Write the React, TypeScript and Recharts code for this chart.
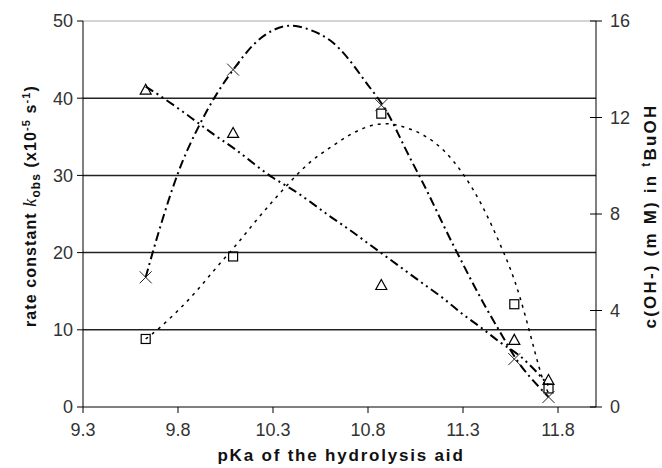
import React from "react";
import { ComposedChart, Line, ReferenceLine, Scatter, XAxis, YAxis } from "recharts";

// measured points (pKa of the hydrolysis aid)
const pKa = [9.63, 10.09, 10.87, 11.57, 11.75];
const kTriangle = [41.1, 35.5, 15.8, 8.7, 3.5];
const kCross = [16.8, 43.7, 39.1, 6.2, 1.3];
// c(OH-) in mM, right axis
const cOH = [2.82, 6.24, 12.16, 4.26, 0.77];

// trend curves
const trendPKa = [
  9.63, 9.7, 9.8, 9.9, 10.0, 10.1, 10.2, 10.3, 10.4, 10.5, 10.6, 10.7,
  10.8, 10.9, 11.0, 11.1, 11.2, 11.3, 11.4, 11.5, 11.6, 11.7, 11.75,
];
const trendTriangle = [
  41.5, 40.4, 38.7, 36.9, 35.1, 33.4, 31.5, 29.7, 28.2, 26.5, 24.7, 23.0,
  21.2, 19.4, 17.6, 15.8, 14.0, 12.0, 10.2, 8.3, 6.6, 4.2, 2.8,
];
const trendCross = [
  16.8, 22.8, 30.3, 35.9, 40.4, 44.0, 47.0, 48.8, 49.4, 48.8, 47.5, 45.0,
  41.7, 38.2, 33.3, 28.5, 23.4, 18.5, 13.8, 9.5, 5.5, 2.6, 1.3,
];
const trendCOH = [
  2.82, 3.26, 4.0, 4.83, 5.76, 6.66, 7.62, 8.54, 9.41, 10.18, 10.75, 11.26,
  11.62, 11.74, 11.58, 11.23, 10.62, 9.66, 8.35, 6.66, 4.54, 1.66, 0.58,
];

const xTicks = [9.3, 9.8, 10.3, 10.8, 11.3, 11.8];
const leftTicks = [0, 10, 20, 30, 40, 50];
const rightTicks = [0, 4, 8, 12, 16];
const gridValues = [10, 20, 30, 40];

const toPoints = (xs: number[], ys: number[]) => xs.map((x, i) => ({ x, y: ys[i] }));

const FONT = "'Liberation Sans', Arial, sans-serif";

const TriangleMark = (p: any) => (
  <path
    d={`M${p.cx},${p.cy - 5.5} L${p.cx + 5.5},${p.cy + 4.5} L${p.cx - 5.5},${p.cy + 4.5} Z`}
    fill="none"
    stroke="#000"
    strokeWidth={1.2}
  />
);

const SquareMark = (p: any) => (
  <rect x={p.cx - 4.5} y={p.cy - 4.5} width={9} height={9} fill="none" stroke="#000" strokeWidth={1.2} />
);

const CrossMark = (p: any) => (
  <g stroke="#222" strokeWidth={1}>
    <line x1={p.cx - 6} y1={p.cy - 6} x2={p.cx + 6} y2={p.cy + 6} />
    <line x1={p.cx - 6} y1={p.cy + 6} x2={p.cx + 6} y2={p.cy - 6} />
  </g>
);

const RightTick = (p: any) => (
  <g>
    <line x1={p.x - 6} y1={p.y} x2={p.x + 6} y2={p.y} stroke="#000" />
    <text x={p.x + 14} y={p.y} dy="0.355em" fontSize={18} fontFamily={FONT} fill="#333">
      {p.payload.value}
    </text>
  </g>
);

export default function App() {
  return (
    <div style={{ position: "absolute", left: 0, top: 0, width: 662, height: 468, background: "#fff" }}>
      <ComposedChart width={662} height={468} margin={{ top: 21, right: 0, bottom: 0, left: 0 }}>
        <XAxis
          dataKey="x"
          type="number"
          domain={[9.3, 12.0]}
          ticks={xTicks}
          allowDataOverflow
          height={61}
          tickSize={6}
          tickMargin={10}
          stroke="#000"
          tick={{ fontSize: 18, fontFamily: FONT, fill: "#333" }}
        />
        <YAxis
          yAxisId="left"
          type="number"
          domain={[0, 50]}
          ticks={leftTicks}
          allowDataOverflow
          width={83}
          tickSize={6}
          tickMargin={4}
          stroke="#000"
          tick={{ fontSize: 18, fontFamily: FONT, fill: "#333" }}
        />
        <YAxis
          yAxisId="right"
          orientation="right"
          type="number"
          domain={[0, 16]}
          ticks={rightTicks}
          allowDataOverflow
          width={66}
          tickSize={0}
          tickMargin={0}
          tickLine={false}
          stroke="#000"
          tick={<RightTick />}
        />
        {gridValues.map((v) => (
          <ReferenceLine key={v} yAxisId="left" y={v} stroke="#222" strokeWidth={1.5} />
        ))}
        <ReferenceLine yAxisId="left" y={50} stroke="#aaa" strokeWidth={1.2} />

        <Line
          yAxisId="left"
          data={toPoints(trendPKa, trendCross)}
          dataKey="y"
          type="natural"
          stroke="#000"
          strokeWidth={2}
          strokeDasharray="9 4 2 4"
          dot={false}
          isAnimationActive={false}
        />
        <Line
          yAxisId="left"
          data={toPoints(trendPKa, trendTriangle)}
          dataKey="y"
          type="natural"
          stroke="#000"
          strokeWidth={2}
          strokeDasharray="9 4 2 4 2 4"
          dot={false}
          isAnimationActive={false}
        />
        <Line
          yAxisId="right"
          data={toPoints(trendPKa, trendCOH)}
          dataKey="y"
          type="natural"
          stroke="#000"
          strokeWidth={1.5}
          strokeDasharray="3 5"
          dot={false}
          isAnimationActive={false}
        />

        <Scatter yAxisId="left" data={toPoints(pKa, kTriangle)} dataKey="y" shape={TriangleMark} isAnimationActive={false} />
        <Scatter yAxisId="right" data={toPoints(pKa, cOH)} dataKey="y" shape={SquareMark} isAnimationActive={false} />
        <Scatter yAxisId="left" data={toPoints(pKa, kCross)} dataKey="y" shape={CrossMark} isAnimationActive={false} />
      </ComposedChart>

      <svg width={662} height={468} style={{ position: "absolute", left: 0, top: 0, pointerEvents: "none" }}>
        <text
          x={341}
          y={461}
          textAnchor="middle"
          fontFamily={FONT}
          fontWeight="bold"
          fontSize={17}
          letterSpacing={1.8}
          fill="#111"
        >
          pKa of the hydrolysis aid
        </text>
        <text
          transform="translate(36,206) rotate(-90)"
          textAnchor="middle"
          fontFamily={FONT}
          fontWeight="bold"
          fontSize={16}
          letterSpacing={1.1}
          fill="#111"
        >
          rate constant{" "}
          <tspan fontFamily="'Liberation Serif', serif" fontStyle="italic" fontWeight="normal" fontSize={18}>
            k
          </tspan>
          <tspan dy={4} fontSize={12}>obs</tspan>
          <tspan dy={-4}> (x10</tspan>
          <tspan dy={-6} fontSize={11}>-5</tspan>
          <tspan dy={6}> s</tspan>
          <tspan dy={-6} fontSize={11}>-1</tspan>
          <tspan dy={6}>)</tspan>
        </text>
        <text
          transform="translate(656,216) rotate(-90)"
          textAnchor="middle"
          fontFamily={FONT}
          fontWeight="bold"
          fontSize={17}
          letterSpacing={2.2}
          fill="#111"
        >
          c(OH-) (m M) in{" "}
          <tspan dy={-6} fontSize={12}>t</tspan>
          <tspan dy={6}>BuOH</tspan>
        </text>
      </svg>
    </div>
  );
}
